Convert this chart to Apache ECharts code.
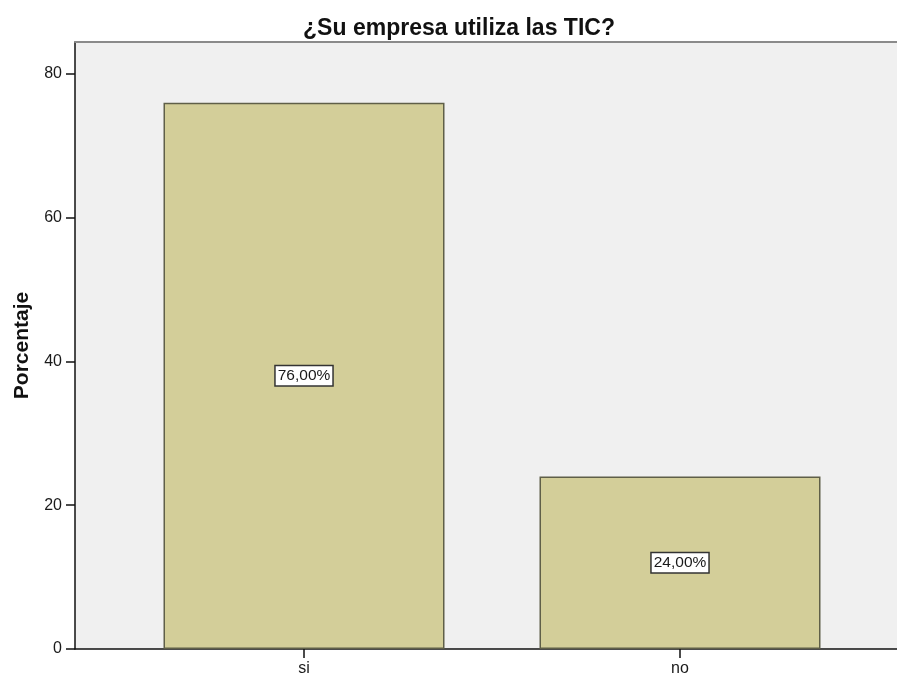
<!DOCTYPE html>
<html><head><meta charset="utf-8">
<script src="https://cdn.jsdelivr.net/npm/echarts@6/dist/echarts.min.js"></script>
<style>html,body{margin:0;padding:0;background:#fff}#c{width:897px;height:677px}</style>
</head><body><div id="c"></div>
<script>
const title = '¿Su empresa utiliza las TIC?';
const categories = ['si', 'no'];
const percentages = [76, 24];
const yTicks = [0, 20, 40, 60, 80];
const yName = 'Porcentaje';
const yMax = 84.45;

const chart = echarts.init(document.getElementById('c'));
const font = 'Liberation Sans, Arial, sans-serif';
chart.setOption({
  animation: false,
  title: { text: title, left: 454, textAlign: 'center', top: 12,
    textStyle: { fontFamily: font, fontSize: 23, fontWeight: 'bold', color: '#111' } },
  grid: [
    { left: 75, right: 0, top: 42, bottom: 28, show: true, backgroundColor: '#F0F0F0', borderWidth: 0 },
    { left: 116, right: 29, top: 42, bottom: 28 }
  ],
  xAxis: [
    { type: 'value', gridIndex: 0, min: 0, max: 1, show: true,
      axisLine: { show: true, onZero: false, lineStyle: { color: '#111', width: 1.5 } },
      axisTick: { show: false }, axisLabel: { show: false }, splitLine: { show: false } },
    { type: 'value', gridIndex: 0, position: 'top', min: 0, max: 1, show: true,
      axisLine: { show: true, onZero: false, lineStyle: { color: '#8a8a8a', width: 2 } },
      axisTick: { show: false }, axisLabel: { show: false }, splitLine: { show: false } },
    { type: 'category', gridIndex: 1, data: categories,
      axisLine: { show: false, onZero: false },
      axisTick: { show: true, alignWithLabel: true, length: 9, inside: false, lineStyle: { color: '#111', width: 1.5 } },
      axisLabel: { margin: 12, fontFamily: font, fontSize: 16, color: '#1a1a1a' } }
  ],
  yAxis: [
    { type: 'value', gridIndex: 0, min: 0, max: yMax, name: yName, nameLocation: 'middle', nameGap: 42,
      nameRotate: 90,
      nameTextStyle: { fontFamily: font, fontSize: 21, fontWeight: 'bold', color: '#111' },
      axisLine: { show: true, lineStyle: { color: '#111', width: 1.5 } },
      axisTick: { show: true, length: 9, customValues: yTicks, lineStyle: { color: '#111', width: 1.5 } },
      axisLabel: { customValues: yTicks, margin: 13, fontFamily: font, fontSize: 16, color: '#1a1a1a' },
      splitLine: { show: false } },
    { type: 'value', gridIndex: 1, min: 0, max: yMax, show: false, splitLine: { show: false } }
  ],
  series: [{
    type: 'bar', xAxisIndex: 2, yAxisIndex: 1, data: percentages, barWidth: 281,
    itemStyle: { color: '#D3CE99', borderColor: '#5f5f48', borderWidth: 1.5 },
    label: { show: true, position: 'inside',
      formatter: p => p.value.toFixed(2).replace('.', ',') + '%',
      backgroundColor: '#fff', borderColor: '#333', borderWidth: 1.5, padding: [2, 2, 1, 2],
      fontFamily: font, fontSize: 15.5, color: '#1a1a1a' }
  }]
});
</script></body></html>
